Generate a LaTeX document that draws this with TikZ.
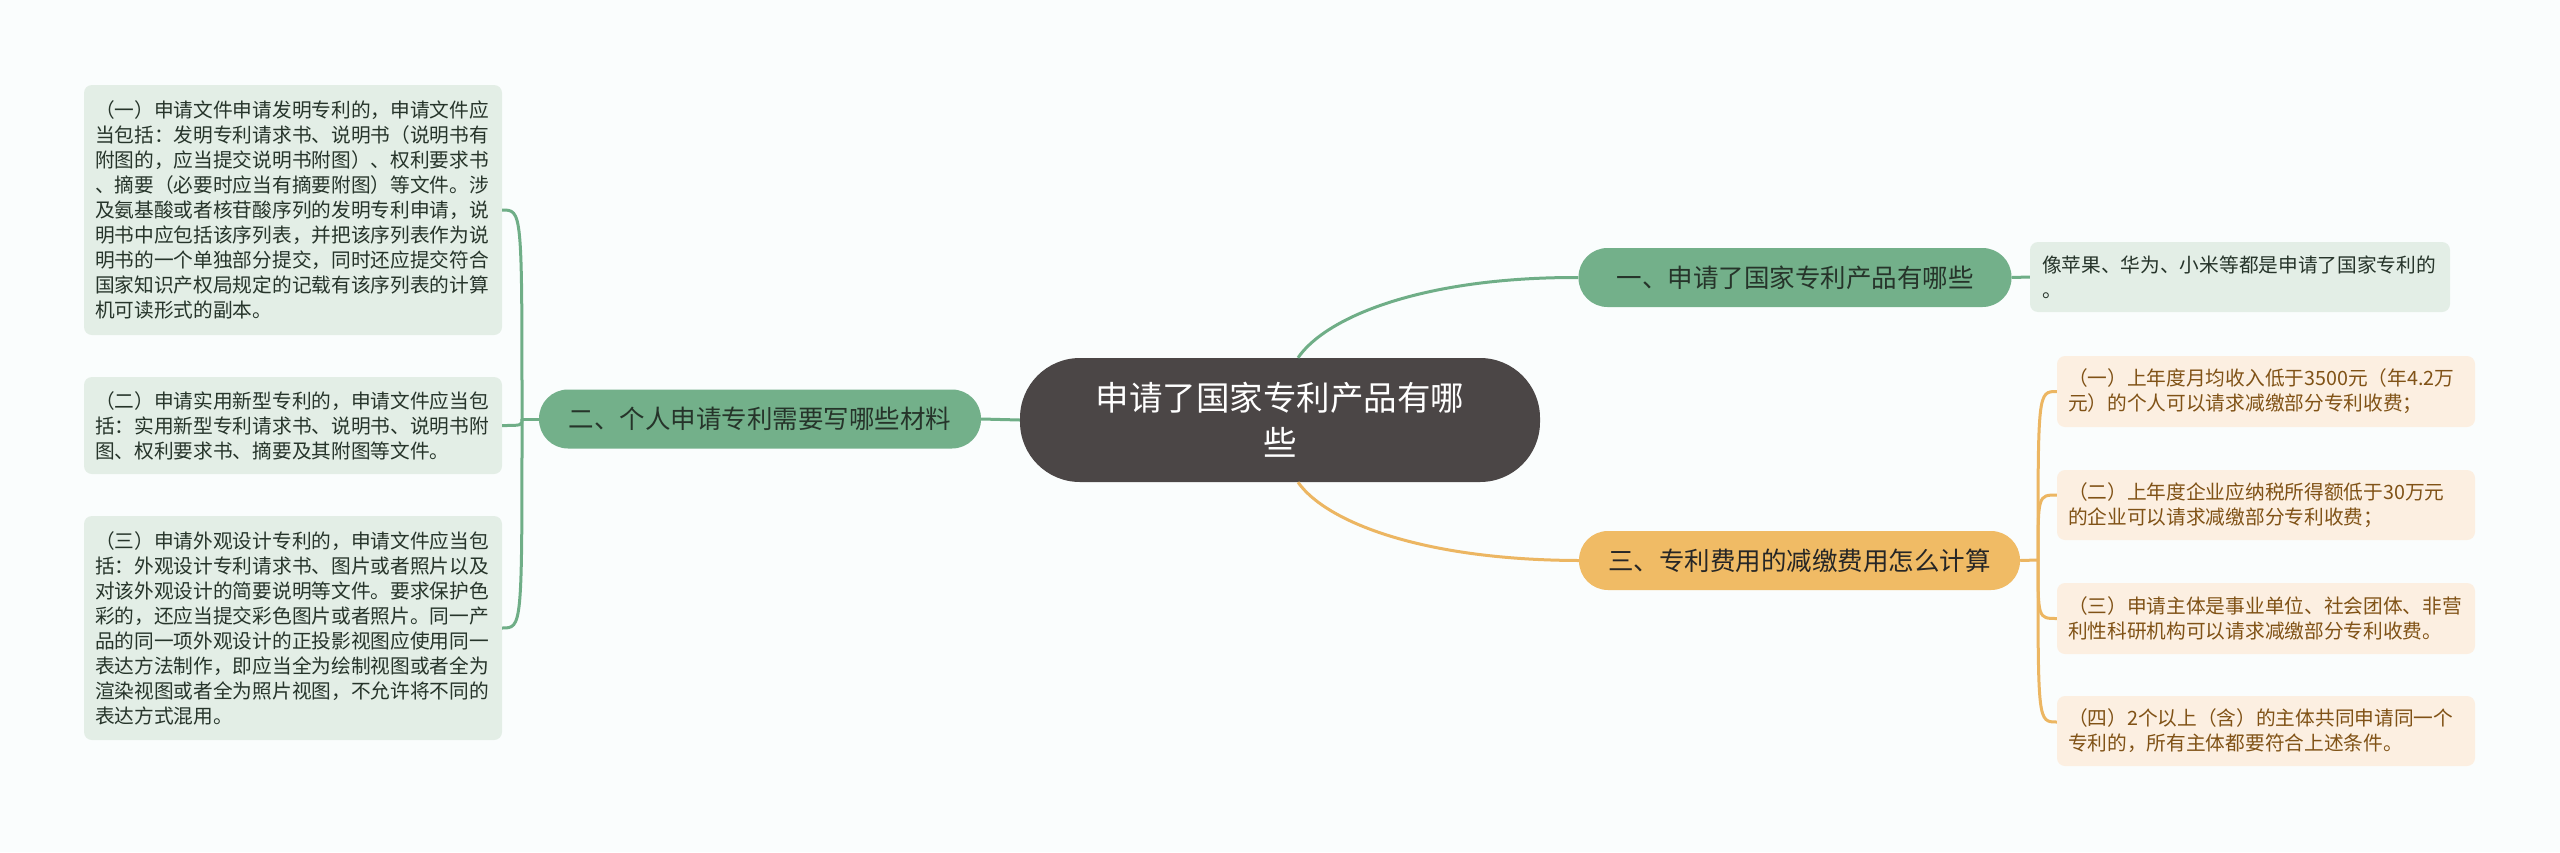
\documentclass[tikz,border=0pt]{standalone}
\usepackage{fontspec}
\newfontfamily\cjk{Noto Sans CJK SC}
\definecolor{bgcol}{RGB}{250,253,253}
\definecolor{rootcol}{RGB}{75,70,70}
\definecolor{gnode}{RGB}{115,176,138}
\definecolor{gleafcol}{RGB}{227,238,230}
\definecolor{gtext}{RGB}{38,52,42}
\definecolor{onode}{RGB}{240,187,101}
\definecolor{oleafcol}{RGB}{252,239,225}
\definecolor{otext}{RGB}{128,82,22}
\definecolor{gline}{RGB}{111,174,135}
\definecolor{oline}{RGB}{236,182,98}

\begin{document}
\begin{tikzpicture}[x=1pt,y=-1pt,
	root/.style={fill=rootcol,text=white,rounded corners=60pt,minimum width=520pt,minimum height=124pt,align=center,font=\cjk\fontsize{33.5}{45}\selectfont},
	topic/.style={rounded corners=29pt,minimum height=59pt,inner sep=0pt,font=\cjk\fontsize{25.5}{30}\selectfont},
	gtopic/.style={topic,fill=gnode,text=gtext},
	otopic/.style={topic,fill=onode,text=black!85},
	leaf/.style={rounded corners=8pt,minimum width=418pt,text width=396pt,align=left,inner xsep=11pt,font=\cjk\fontsize{19.7}{25}\selectfont},
	gleaf/.style={leaf,fill=gleafcol,text=gtext},
	oleaf/.style={leaf,fill=oleafcol,text=otext},
	gbranch/.style={draw=gline,line width=3pt},
	obranch/.style={draw=oline,line width=3pt}]

	% fond
		\useasboundingbox[fill=bgcol] (0,0) rectangle (2560,852);

	% o centro e os topicos
		\node[root] (root) at (1280,420) {申请了国家专利产品有哪\\些};
		\node[gtopic,minimum width=433pt] (t1) at (1795,277.5) {一、申请了国家专利产品有哪些};
		\node[gtopic,minimum width=442pt] (t2) at (760,419) {二、个人申请专利需要写哪些材料};
		\node[otopic,minimum width=441pt] (t3) at (1799.5,560.5) {三、专利费用的减缴费用怎么计算};

	% as folhas
		\node[gleaf,minimum width=420pt,minimum height=70pt] (a1) at (2240,277) {像苹果、华为、小米等都是申请了国家专利的\\。};

		\node[gleaf,minimum width=416pt,minimum height=250pt] (b1) at (293,210) {（一）申请文件申请发明专利的，申请文件应\\当包括：发明专利请求书、说明书（说明书有\\附图的，应当提交说明书附图）、权利要求书\\、摘要（必要时应当有摘要附图）等文件。涉\\及氨基酸或者核苷酸序列的发明专利申请，说\\明书中应包括该序列表，并把该序列表作为说\\明书的一个单独部分提交，同时还应提交符合\\国家知识产权局规定的记载有该序列表的计算\\机可读形式的副本。};
		\node[gleaf,minimum width=416pt,minimum height=97pt] (b2) at (293,425.5) {（二）申请实用新型专利的，申请文件应当包\\括：实用新型专利请求书、说明书、说明书附\\图、权利要求书、摘要及其附图等文件。};
		\node[gleaf,minimum width=416pt,minimum height=224pt] (b3) at (293,628) {（三）申请外观设计专利的，申请文件应当包\\括：外观设计专利请求书、图片或者照片以及\\对该外观设计的简要说明等文件。要求保护色\\彩的，还应当提交彩色图片或者照片。同一产\\品的同一项外观设计的正投影视图应使用同一\\表达方法制作，即应当全为绘制视图或者全为\\渲染视图或者全为照片视图，不允许将不同的\\表达方式混用。};

		\node[oleaf,minimum height=71pt] (c1) at (2266,391.5) {（一）上年度月均收入低于3500元（年4.2万\\元）的个人可以请求减缴部分专利收费；};
		\node[oleaf,minimum height=70pt] (c2) at (2266,505) {（二）上年度企业应纳税所得额低于30万元\\的企业可以请求减缴部分专利收费；};
		\node[oleaf,minimum height=71pt] (c3) at (2266,618.5) {（三）申请主体是事业单位、社会团体、非营\\利性科研机构可以请求减缴部分专利收费。};
		\node[oleaf,minimum height=70pt] (c4) at (2266,731) {（四）2个以上（含）的主体共同申请同一个\\专利的，所有主体都要符合上述条件。};

	% as ligacoes
		\coordinate (k2) at (522,419);
		\coordinate (k3) at (2038,560);
		\draw[gbranch] ([xshift=18pt]root.north) .. controls (1325,318) and (1420,277) .. (t1.west);
		\draw[gbranch] (t1.east) -- (a1.west);
		\draw[gbranch] (root.west) -- (t2.east);
		\draw[obranch] ([xshift=18pt]root.south) .. controls (1325,521) and (1420,560) .. (t3.west);

		\draw[gbranch] (t2.west) -- (k2);
		\foreach \b in {b1,b2,b3}
			\draw[gbranch] (k2) .. controls (k2 |- \b.east) .. (\b.east);

		\draw[obranch] (t3.east) -- (k3);
		\draw[obranch] (k3) .. controls (k3 |- c1.west) .. (c1.west);
		\draw[obranch] (k3) .. controls ([yshift=10pt]k3 |- c2.west) .. ([yshift=10pt]c2.west);
		\draw[obranch] (k3) .. controls (k3 |- c3.west) .. (c3.west);
		\draw[obranch] (k3) .. controls ([yshift=9pt]k3 |- c4.west) .. ([yshift=9pt]c4.west);
\end{tikzpicture}
\end{document}
